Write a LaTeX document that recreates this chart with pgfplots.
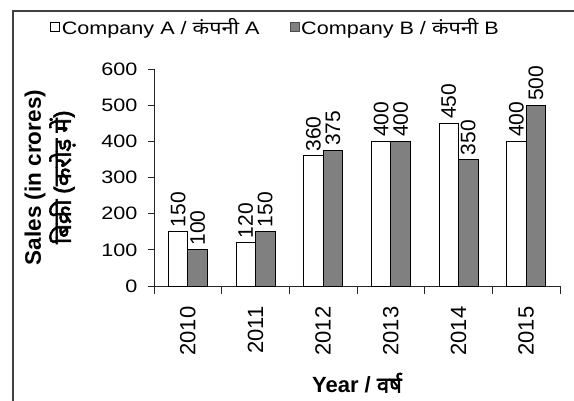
\documentclass[border=0pt]{standalone}
\usepackage{fontspec}
\setmainfont{Liberation Sans}
\newfontfamily\wide[FakeStretch=1.2]{Liberation Sans}
\newfontfamily\hindi[Script=Devanagari, AutoFakeBold=2.5]{Noto Sans}
\newfontfamily\hindiwide[Script=Devanagari, FakeStretch=1.2]{Noto Sans}
\usepackage{pgfplots}
\pgfplotsset{compat=1.18}
\definecolor{barB}{RGB}{128,128,128}
\begin{document}
\begin{tikzpicture}
\useasboundingbox (0,0) rectangle (574pt,400pt);
\draw[line width=1.3pt, black!75] (13pt,-5pt) -- (13pt,389pt) -- (580pt,389pt);
\begin{axis}[
 at={(154pt,114pt)}, anchor=south west,
 scale only axis, width=406pt, height=217pt,
 ybar=0pt, bar width=19.5pt,
 clip=false,
 ymin=0, ymax=600, ytick={0,100,...,600},
 xmin=-0.5, xmax=5.5, xtick={0,...,5},
 xticklabels={2010,2011,2012,2013,2014,2015},
 minor xtick={-0.5,0.5,...,5.5},
 axis x line*=bottom, axis y line*=left,
 axis line style={black!85, line width=0.9pt},
 tick align=outside,
 major x tick style={draw=none},
 minor tick length=8pt, major tick length=6pt,
 tick style={black!85, line width=0.9pt},
 /pgf/number format/assume math mode=true,
 yticklabel style={font=\wide\fontsize{18}{20}\selectfont, xshift=-7pt},
 xticklabel style={font=\fontsize{22}{24}\selectfont, yshift=-11pt, rotate=90, anchor=east},
 nodes near coords,
 every node near coord/.append style={font=\fontsize{21}{24}\selectfont, rotate=90, anchor=west, inner sep=4pt},
 legend style={draw=none, fill=none, at={(-0.256,1.194)}, anchor=west, legend columns=2,
   font=\wide\fontsize{18}{22}\selectfont, inner sep=0pt,
   /tikz/every even column/.append style={column sep=28pt}},
 legend cell align=left,
 every axis y label/.style={at={(axis description cs:0,0.5)}, xshift=-104pt, rotate=90, anchor=center, align=center, font=\bfseries\fontsize{22.5}{30}\selectfont},
 every axis x label/.style={at={(axis description cs:0.5,0)}, yshift=-97pt, anchor=center, font=\bfseries\fontsize{22}{24}\selectfont},
 ylabel={Sales (in crores)\\{\hindi\fontsize{24}{30}\selectfont बिक्री (करोड़ में)}},
 xlabel={Year / {\hindi वर्ष}},
]
\addplot[fill=white, draw=black, line width=0.8pt,
  legend image code/.code={\draw[fill=white,draw=black,line width=0.6pt] (0pt,-4.5pt) rectangle (9pt,4.5pt);}]
  coordinates {(0,150) (1,120) (2,360) (3,400) (4,450) (5,400)};
\addplot[fill=barB, draw=black, line width=0.8pt,
  legend image code/.code={\draw[fill=barB,draw=black!70,line width=0.6pt] (0pt,-4.5pt) rectangle (9pt,4.5pt);}]
  coordinates {(0,100) (1,150) (2,375) (3,400) (4,350) (5,500)};
\legend{Company A / {\hindiwide कंपनी} A, Company B / {\hindiwide कंपनी} B}
\end{axis}
\end{tikzpicture}
\end{document}
